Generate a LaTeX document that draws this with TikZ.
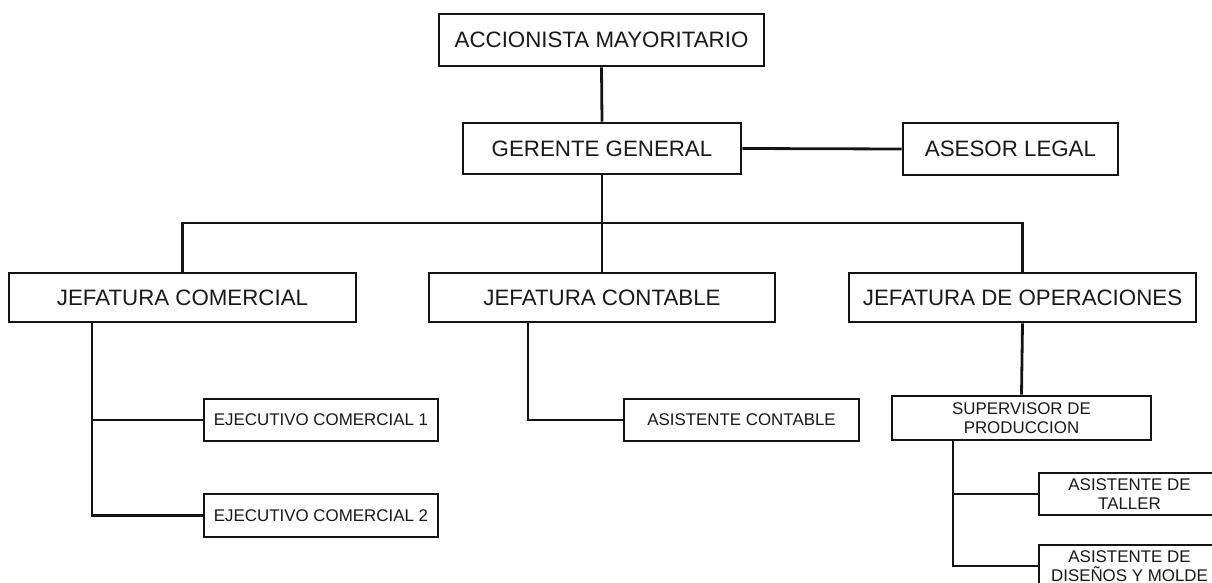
\documentclass[tikz,border=0pt]{standalone}
\usepackage{fontspec}
\setmainfont{Liberation Sans}
\definecolor{linec}{RGB}{20,20,20}
\definecolor{textc}{RGB}{25,25,25}
\begin{document}
\begin{tikzpicture}[x=1pt,y=-1pt,
  box/.style={draw=linec, line width=2.8pt, inner sep=0pt, align=center, text=textc, fill=white},
  big/.style={font=\fontsize{22.3}{26}\selectfont},
  small/.style={font=\fontsize{16.9}{18.8}\selectfont},
  conn/.style={draw=linec, line width=2.8pt}]
\useasboundingbox (0,0) rectangle (1212,583);
\clip (0,0) rectangle (1212,583);

% top levels
\node[box,big,minimum width=325pt,minimum height=52pt] (acc) at (601.5,40) {ACCIONISTA MAYORITARIO};
\node[box,big,minimum width=278pt,minimum height=51pt] (ger) at (602,148.5) {GERENTE GENERAL};
\node[box,big,minimum width=215pt,minimum height=52pt] (ase) at (1010.5,149) {ASESOR LEGAL};

% jefaturas
\node[box,big,minimum width=347pt,minimum height=49pt] (jc) at (182.5,297.5) {JEFATURA COMERCIAL};
\node[box,big,minimum width=346pt,minimum height=49pt] (jct) at (602,297.5) {JEFATURA CONTABLE};
\node[box,big,minimum width=347pt,minimum height=49pt] (jo) at (1022.5,297.5) {JEFATURA DE OPERACIONES};

% lower level
\node[box,small,minimum width=234pt,minimum height=42pt] (ec1) at (321,420) {EJECUTIVO COMERCIAL 1};
\node[box,small,minimum width=234pt,minimum height=43pt] (ec2) at (321,515.5) {EJECUTIVO COMERCIAL 2};
\node[box,small,minimum width=235pt,minimum height=42pt] (ac) at (741.5,420) {ASISTENTE CONTABLE};
\node[box,small,minimum width=259pt,minimum height=44pt] (sup) at (1021.5,418) {SUPERVISOR DE\\PRODUCCION};
\node[box,small,minimum width=181pt,minimum height=42pt] (tal) at (1129.5,494) {ASISTENTE DE\\TALLER};
\node[box,small,minimum width=181pt,minimum height=42pt] (dis) at (1129.5,566) {ASISTENTE DE\\DISEÑOS Y MOLDE};

% helper coordinates
\coordinate (bar) at (0,223);
\coordinate (jcT) at (92,0);
\coordinate (jctT) at (528,0);
\coordinate (supT) at (953,0);

% connectors
\draw[conn] (acc.south) -- (ger.north);
\draw[conn] (ger.east) -- (ase.west);
\draw[conn] (ger.south) -- (jct.north);
\draw[conn] (jc.north) -- (jc.north |- bar) -- (jo.north |- bar) -- (jo.north);
\draw[conn] (jcT |- jc.south) |- (ec1.west);
\draw[conn] (jcT |- jc.south) |- (ec2.west);
\draw[conn] (jctT |- jct.south) |- (ac.west);
\draw[conn] (jo.south) -- (sup.north);
\draw[conn] (supT |- sup.south) |- (tal.west);
\draw[conn] (supT |- sup.south) |- (dis.west);
\end{tikzpicture}
\end{document}
